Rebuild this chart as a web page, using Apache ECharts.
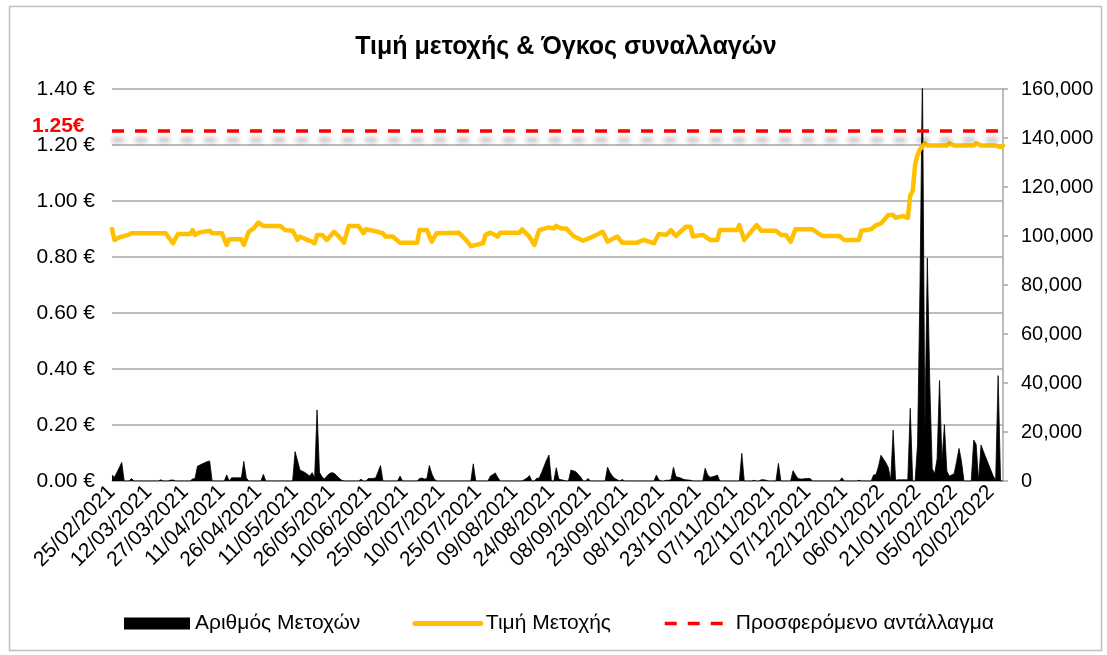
<!DOCTYPE html>
<html>
<head>
<meta charset="utf-8">
<title>Τιμή μετοχής & Όγκος συναλλαγών</title>
<script src="https://cdn.jsdelivr.net/npm/echarts@6/dist/echarts.min.js"></script>
<style>
  html, body { margin: 0; padding: 0; background: #fff; }
  #chart { width: 1107px; height: 655px; }
</style>
</head>
<body>
<div id="chart"></div>
<script>
// x positions are days counted from 25/02/2021 (day 0) to 25/02/2022 (day 365)
var dateLabels = [
  "25/02/2021", "12/03/2021", "27/03/2021", "11/04/2021", "26/04/2021",
  "11/05/2021", "26/05/2021", "10/06/2021", "25/06/2021", "10/07/2021",
  "25/07/2021", "09/08/2021", "24/08/2021", "08/09/2021", "23/09/2021",
  "08/10/2021", "23/10/2021", "07/11/2021", "22/11/2021", "07/12/2021",
  "22/12/2021", "06/01/2022", "21/01/2022", "05/02/2022", "20/02/2022"
];

// Αριθμός Μετοχών: [day, shares]
var volume = [
  [0,2500],[1,1500],[2,3500],[3,5500],[4,7600],[5,0],
  [7,0],[8,1000],[9,0],[19,0],[20,500],[21,0],[23,0],[24,400],[25,400],[26,0],
  [32,0],[33,800],[34,1000],[35,6000],[36,6500],[37,7000],[38,7500],[39,7900],[40,8200],[41,0],
  [46,0],[47,2500],[48,0],[49,1300],[50,1300],[51,1300],[52,1300],[53,1300],[54,8000],[55,1300],[56,0],
  [61,0],[62,2700],[63,0],
  [74,0],[75,12000],[77,4500],[79,3500],[81,2000],[82,3400],[83,1200],[84,29000],[85,3500],[86,1800],
  [87,800],[88,2000],[89,3000],[90,3400],[91,3200],[92,2200],[93,1200],[94,400],[95,0],
  [101,0],[102,700],[103,0],
  [104,0],[105,1000],[106,1000],[107,1100],[108,1200],[110,6300],[111,0],
  [117,0],[118,2000],[119,0],
  [125,0],[126,1000],[127,1200],[128,800],[129,1000],[130,6300],[131,3000],[132,800],[133,0],
  [147,0],[148,7000],[149,0],
  [154,0],[155,2000],[156,2600],[157,3300],[158,1500],[159,0],
  [168,0],[169,600],[170,1200],[171,2200],[172,0],
  [173,0],[174,1100],[175,1200],[176,3500],[177,6000],[178,8500],[179,10600],[180,0],
  [181,0],[182,5400],[183,800],[184,500],[185,300],[186,0],
  [187,0],[188,4500],[190,3800],[192,1600],[193,0],[194,0],[195,1000],[196,0],
  [202,0],[203,5600],[204,3500],[205,2000],[206,1000],[207,500],[208,0],[209,600],[210,0],
  [222,0],[223,2400],[224,500],[225,0],
  [226,0],[227,300],[228,300],[229,500],[230,5600],[231,1800],[232,1500],[233,1200],[234,700],[235,500],[237,300],[238,0],
  [242,0],[243,5200],[244,2500],[245,1500],[246,1700],[247,2000],[248,2400],[249,0],
  [257,0],[258,11300],[259,0],
  [262,0],[263,300],[264,0],[265,0],[266,500],[267,500],[268,300],[269,0],
  [272,0],[273,7200],[274,0],
  [278,0],[279,4200],[280,2500],[281,1000],[282,800],[283,800],[284,1000],[285,1000],[286,1000],[287,0],
  [298,0],[299,1300],[300,0],[305,0],[306,300],[307,0],
  [311,0],[312,2500],[313,2600],[314,6000],[315,10500],[316,9000],[317,7500],[318,5500],[319,300],
  [320,20800],[321,300],[322,500],[323,500],[324,500],[325,500],[326,500],[327,29700],[328,0],[329,0],
  [330,15000],[331,80000],[332,168000],[333,20000],[334,91000],[335,40000],[336,5000],[337,3000],
  [338,9000],[339,41000],[340,8000],[341,23000],[342,4000],[343,2000],[344,2500],[345,3000],
  [346,8000],[347,13300],[348,8000],[349,0],
  [352,0],[353,16700],[354,15000],[355,0],[356,14700],[357,12000],[358,9500],[359,7000],[360,4500],
  [361,2000],[362,500],[363,43000],[364,0],[365,0]
];

// Τιμή Μετοχής: [day, €]
var price = [
  [0,0.900],[1,0.861],[3,0.870],[7,0.880],[8,0.885],[22,0.885],[25,0.849],[27,0.882],[32,0.882],
  [33,0.896],[34,0.879],[36,0.888],[40,0.894],[41,0.885],[45,0.885],[47,0.843],[48,0.863],[53,0.863],
  [54,0.843],[56,0.890],[58,0.902],[60,0.923],[62,0.911],[69,0.911],[71,0.896],[74,0.894],[76,0.861],
  [77,0.873],[80,0.861],[82,0.855],[83,0.849],[84,0.879],[86,0.879],[88,0.861],[91,0.890],[93,0.873],
  [95,0.851],[97,0.911],[101,0.911],[103,0.885],[104,0.899],[107,0.894],[111,0.885],[112,0.873],
  [115,0.873],[118,0.851],[125,0.851],[126,0.896],[129,0.896],[131,0.855],[133,0.885],[142,0.887],
  [145,0.861],[147,0.839],[152,0.849],[153,0.879],[155,0.887],[158,0.873],[159,0.887],[167,0.887],
  [168,0.899],[171,0.873],[173,0.843],[175,0.896],[179,0.906],[181,0.902],[182,0.911],[184,0.902],
  [186,0.902],[189,0.875],[193,0.858],[197,0.873],[201,0.890],[203,0.855],[207,0.873],[209,0.851],
  [215,0.851],[218,0.861],[222,0.849],[224,0.882],[227,0.879],[229,0.896],[231,0.875],[235,0.908],
  [237,0.908],[238,0.873],[242,0.879],[245,0.861],[248,0.861],[249,0.896],[256,0.896],[257,0.914],
  [259,0.861],[264,0.914],[266,0.894],[272,0.894],[274,0.879],[276,0.879],[278,0.855],[280,0.899],
  [287,0.899],[291,0.875],[298,0.875],[300,0.861],[306,0.861],[307,0.894],[311,0.899],[313,0.914],
  [315,0.920],[318,0.950],[320,0.950],[321,0.940],[324,0.946],[326,0.940],[327,1.020],[328,1.035],
  [329,1.130],[330,1.165],[331,1.185],[332,1.195],[333,1.206],[334,1.198],[342,1.198],[343,1.206],
  [345,1.198],[353,1.198],[354,1.206],[356,1.198],[362,1.198],[364,1.192],[365,1.198]
];

// Προσφερόμενο αντάλλαγμα
var offer = [[0,1.25],[365,1.25]];

var font = "'Liberation Sans', Arial, sans-serif";
var chart = echarts.init(document.getElementById("chart"));
var hideSymbol = { color: "rgba(0,0,0,0)", borderWidth: 0, opacity: 0 };

var option = {
  backgroundColor: "#fff",
  animation: false,
  textStyle: { fontFamily: font },
  title: {
    text: "Τιμή μετοχής & Όγκος συναλλαγών",
    left: 561,
    top: 30,
    textAlign: "center",
    textStyle: { fontFamily: font, fontSize: 25, fontWeight: "bold", color: "#000" }
  },
  grid: { left: 112, right: 104, top: 89, bottom: 174, containLabel: false },
  legend: {
    left: 124,
    top: 613,
    padding: 0,
    itemWidth: 66,
    itemHeight: 12,
    itemGap: 52,
    textStyle: { fontFamily: font, fontSize: 21, color: "#000" },
    data: [
      { name: "Αριθμός Μετοχών", icon: "rect" },
      { name: "Τιμή Μετοχής", itemStyle: hideSymbol, lineStyle: { width: 5 } },
      {
        name: "Προσφερόμενο αντάλλαγμα",
        itemStyle: hideSymbol,
        lineStyle: { width: 3.5, shadowBlur: 0, shadowOffsetY: 0, shadowColor: "rgba(0,0,0,0)" }
      }
    ]
  },
  xAxis: {
    type: "value",
    min: 0,
    max: 365,
    interval: 15,
    axisLine: { show: true, lineStyle: { color: "#a6a6a6", width: 1.5 } },
    axisTick: { show: false },
    splitLine: { show: false },
    axisLabel: {
      rotate: 45,
      margin: 8,
      fontSize: 21,
      color: "#000",
      showMaxLabel: false,
      formatter: function (v) {
        return dateLabels[Math.round(v / 15)] || "";
      }
    }
  },
  yAxis: [
    {
      type: "value",
      min: 0,
      max: 1.4,
      interval: 0.2,
      axisLine: { show: false },
      axisTick: { show: false },
      splitLine: { lineStyle: { color: "#a6a6a6", width: 1.5 } },
      axisLabel: {
        fontSize: 21,
        color: "#000",
        margin: 17,
        formatter: function (v) { return v.toFixed(2) + " €"; }
      }
    },
    {
      type: "value",
      min: 0,
      max: 160000,
      interval: 20000,
      axisLine: { show: true, lineStyle: { color: "#a6a6a6", width: 1.5 } },
      axisTick: { show: true, length: 5, lineStyle: { color: "#a6a6a6", width: 1.5 } },
      splitLine: { show: false },
      axisLabel: {
        fontSize: 20,
        color: "#000",
        margin: 18,
        formatter: function (v) { return v.toLocaleString("en-US"); }
      }
    }
  ],
  series: [
    {
      name: "Αριθμός Μετοχών",
      type: "line",
      yAxisIndex: 1,
      data: volume,
      symbol: "none",
      color: "#000",
      lineStyle: { color: "#000", width: 0.8 },
      areaStyle: { color: "#000", opacity: 1 },
      z: 2
    },
    {
      name: "Τιμή Μετοχής",
      type: "line",
      yAxisIndex: 0,
      data: price,
      symbol: "none",
      color: "#FFC000",
      lineStyle: { color: "#FFC000", width: 4.5, cap: "round", join: "round" },
      z: 3
    },
    {
      name: "Προσφερόμενο αντάλλαγμα",
      type: "line",
      yAxisIndex: 0,
      data: offer,
      symbol: "none",
      color: "#FF0000",
      lineStyle: {
        color: "#FF0000",
        width: 3.5,
        type: [12, 11],
        shadowColor: "rgba(0,0,0,0.35)",
        shadowBlur: 5,
        shadowOffsetY: 9
      },
      z: 4
    }
  ],
  graphic: [
    {
      type: "rect",
      left: 7,
      top: 4,
      shape: { width: 1092, height: 644 },
      style: { fill: "none", stroke: "#bfbfbf", lineWidth: 1.5 },
      silent: true,
      z: -10
    },
    {
      type: "text",
      left: 32,
      top: 116,
      style: { text: "1.25€", fill: "#FF0000", font: "bold 21px " + font }
    }
  ]
};

chart.setOption(option);
</script>
</body>
</html>
